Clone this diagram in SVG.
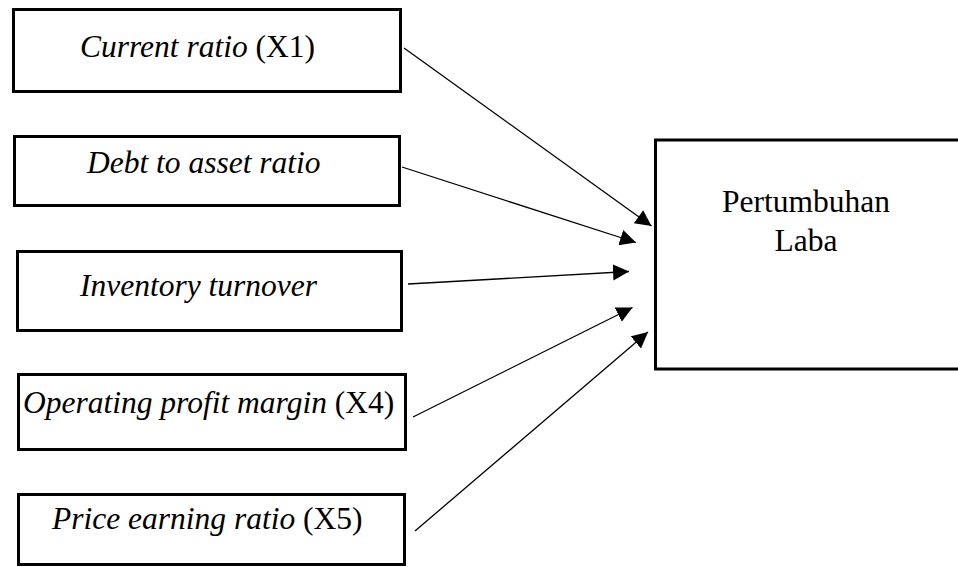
<svg xmlns="http://www.w3.org/2000/svg" width="958" height="567" viewBox="0 0 958 567">
<style>
.box{fill:#fff;stroke:#000;stroke-width:3}
.t{font-family:"Liberation Serif","Times New Roman",serif;font-size:31.5px;fill:#000}
.i{font-style:italic}
.c{stroke:#000;stroke-width:1.3;fill:none}
</style>
<defs>
<marker id="ah" markerUnits="userSpaceOnUse" markerWidth="18" markerHeight="18" viewBox="0 0 18 18" refX="16" refY="8" orient="auto">
<path d="M0,0 L16,8 L0,16 Z" fill="#000"/>
</marker>
</defs>
<rect width="958" height="567" fill="#fff"/>
<g id="n1"><rect class="box" x="13.5" y="9.5" width="387" height="82"/><text class="t" x="80" y="57"><tspan class="i">Current ratio</tspan> (X1)</text></g>
<g id="n2"><rect class="box" x="14.5" y="136.5" width="385" height="69"/><text class="t i" x="87" y="173">Debt to asset ratio</text></g>
<g id="n3"><rect class="box" x="17.5" y="251.5" width="384" height="79"/><text class="t i" x="80" y="296">Inventory turnover</text></g>
<g id="n4"><rect class="box" x="18.5" y="374.5" width="387" height="75"/><text class="t" x="23" y="412.5"><tspan class="i">Operating profit margin</tspan> (X4)</text></g>
<g id="n5"><rect class="box" x="18.5" y="494.5" width="386" height="70"/><text class="t" x="52" y="529"><tspan class="i">Price earning ratio</tspan> (X5)</text></g>
<g id="y"><rect class="box" x="655.5" y="140" width="310" height="229"/><text class="t" x="806" y="211.5" text-anchor="middle">Pertumbuhan</text><text class="t" x="806" y="250.5" text-anchor="middle">Laba</text></g>
<g id="connectors">
<line class="c" x1="404" y1="48" x2="651.5" y2="226" marker-end="url(#ah)"/>
<line class="c" x1="402" y1="167" x2="636" y2="242.5" marker-end="url(#ah)"/>
<line class="c" x1="408" y1="284" x2="629" y2="271.5" marker-end="url(#ah)"/>
<line class="c" x1="413" y1="417" x2="632.5" y2="307.5" marker-end="url(#ah)"/>
<line class="c" x1="415" y1="531" x2="648" y2="332" marker-end="url(#ah)"/>
</g>
</svg>
